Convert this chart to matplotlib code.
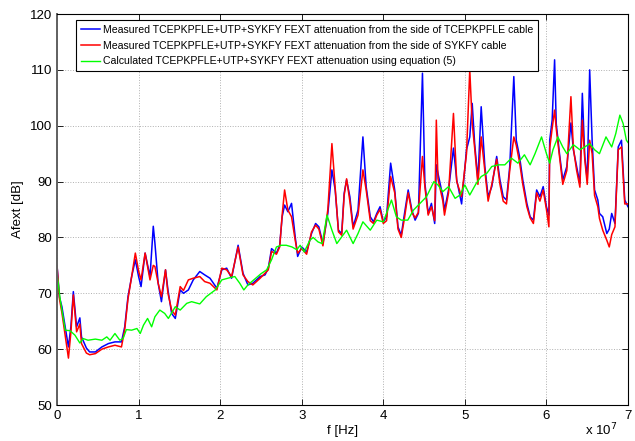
import numpy as np
import matplotlib
matplotlib.use('Agg')
import matplotlib.pyplot as plt

# frequencies in MHz, attenuation in dB
f_meas = [0.0, 0.3, 0.6, 1.0, 1.4, 1.7, 2.0, 2.4, 2.8, 3.0, 3.6, 4.0, 4.7, 5.5, 6.3, 7.1, 7.9, 8.3, 8.7, 9.15,
          9.6, 10.0, 10.3, 10.8, 11.4, 11.8, 12.0, 12.4, 12.8, 13.3, 13.6, 14.05, 14.5, 15.1, 15.5, 16.1, 16.7,
          17.5, 18.1, 18.75, 19.6, 20.2, 20.8, 21.4, 22.2, 22.8, 23.4, 24.0, 24.9, 25.5, 25.9, 26.3, 26.9, 27.3,
          27.6, 27.9, 28.3, 28.75, 29.2, 29.5, 30.0, 30.6, 31.2, 31.7, 32.1, 32.6, 33.2, 33.7, 34.1, 34.5, 34.9,
          35.2, 35.5, 35.9, 36.3, 36.9, 37.5, 37.9, 38.4, 38.8, 39.2, 39.6, 40.0, 40.4, 40.9, 41.4, 41.8, 42.2,
          42.6, 43.05, 43.5, 43.9, 44.3, 44.8, 45.1, 45.5, 45.9, 46.3, 46.5, 46.7, 47.3, 47.5, 48.0, 48.6, 49.0,
          49.6, 50.2, 50.6, 50.9, 51.2, 51.6, 52.0, 52.45, 52.85, 53.3, 53.9, 54.3, 54.7, 55.1, 55.5, 56.0, 56.3,
          56.7, 57.1, 57.6, 58.0, 58.4, 58.8, 59.2, 59.6, 60.0, 60.3, 60.4, 60.7, 61.0, 61.2, 61.6, 62.0, 62.5,
          63.0, 63.3, 63.7, 64.1, 64.4, 64.7, 65.0, 65.3, 65.6, 65.9, 66.3, 66.5, 66.9, 67.4, 67.7, 68.0, 68.4,
          68.8, 69.2, 69.6, 70.0]

a_tcep = [75, 69.3, 67.6, 64, 60.4, 64, 70.3, 64, 65.6, 62.2, 60.2, 59.5, 59.5, 60.4, 61, 61.3, 61.3, 64, 69.4, 73,
          76, 73, 71.2, 77.2, 73, 82, 79, 71.8, 68.5, 74.2, 70.6, 66.4, 65.5, 70.6, 70, 70.6, 72.4,
          73.9, 73.3, 72.7, 70.9, 74.2, 74.5, 72.7, 78.6, 73.6, 71.5, 71.8, 73, 73.3, 74.5, 78, 77.2, 78.6,
          83.7, 85.8, 84.6, 86.1, 80.1, 76.6, 78.3, 77.4, 80.7, 82.5, 81.9, 78.9, 84.3, 92.1, 88.5, 81.3, 80.7,
          87.9, 90.3, 87.3, 81.9, 84.9, 98, 89.1, 83.7, 82.8, 84.3, 85.5, 82.8, 83.7, 93.3, 88.5, 81.9, 80.4,
          84.3, 88.5, 84.9, 83.1, 84.3, 109.4, 89.7, 84.3, 86.1, 82.5, 93, 91.5, 87.3, 84.9, 88.5, 96, 90.3,
          86, 95.7, 98, 104, 96.8, 90.3, 103.4, 92.7, 87.3, 89.1, 94.5, 90.3, 87.3, 86.7, 92.7, 108.8, 97.4,
          94.5, 90.3, 86.1, 83.7, 83.1, 88.5, 87.3, 89.1, 85.5, 84, 97.4, 101, 111.8, 100.4, 95, 90.3, 92.7,
          100.5, 95.7, 92.7, 89.7, 105.8, 94.5, 90.3, 110, 97.4, 88.5, 86.7, 84.3, 83.7, 80.7, 81.5, 84.3, 82.5,
          96.2, 97.4, 86.7, 85.5]

a_sykfy = [75, 69, 66.5, 62.5, 58.4, 63, 69.7, 63.1, 64.5, 61, 59.3, 59, 59.2, 60, 60.4, 60.7, 60.4, 63.5, 69, 73,
           77.2, 74, 72.4, 77.2, 72.4, 75, 74.8, 71.8, 69.4, 74.2, 70, 67, 66.1, 71.2, 70.5, 72.4, 72.7,
           73, 72.1, 71.8, 70.6, 74.5, 74.2, 73, 78.3, 73.3, 72.1, 71.5, 72.7, 73.6, 74.2, 77.5, 77, 78.3,
           84, 88.5, 84.9, 83.7, 79.5, 77.2, 78, 77, 81, 82.2, 81.5, 78.5, 85, 96.8, 89, 81, 80.4,
           87.5, 90.5, 86.5, 81.5, 84, 92.1, 88.5, 83, 82.5, 84, 85, 82.5, 83, 90.9, 88, 81.5, 80,
           83.5, 88, 84.5, 83.5, 84.5, 94.5, 89, 84, 85.5, 83, 101, 90.5, 86.5, 84, 88, 102.2, 90,
           87.3, 95, 110, 100.4, 96, 89.5, 98, 92, 86.5, 89.5, 94, 89.5, 86.5, 86, 92, 98, 96.5,
           93.5, 89.5, 85.5, 83.5, 82.5, 88, 86.5, 88.5, 85, 81.9, 96, 99.5, 102.8, 99.5, 94.5, 89.5, 92,
           105.2, 96, 92, 89, 101, 94, 89.5, 97.4, 95, 87.5, 85.5, 83.4, 81.3, 79.5, 78.3, 80.5, 81.9,
           95.7, 96.2, 86, 86]

f_calc = [0.0, 0.4, 0.8, 1.0, 1.6, 2.2, 2.8, 3.2, 3.8, 4.7, 5.5, 6.1, 6.5, 7.1, 7.7, 8.1, 8.5, 9.15, 9.8, 10.2,
          10.6, 11.1, 11.6, 12.0, 12.6, 13.2, 13.65, 14.5, 15.1, 15.9, 16.5, 17.5, 18.3, 19.4, 20.2, 21.2, 21.8,
          22.4, 22.9, 23.4, 24.2, 25.0, 25.7, 26.3, 26.9, 27.5, 28.1, 28.8, 29.4, 29.8, 30.3, 31.0, 31.4, 32.0,
          32.5, 33.1, 33.7, 34.3, 34.9, 35.5, 36.3, 36.9, 37.5, 38.4, 39.2, 40.0, 41.0, 41.6, 42.2, 43.0, 43.7,
          44.5, 45.3, 46.2, 46.7, 47.3, 48.0, 48.8, 49.4, 50.0, 50.6, 51.4, 52.0, 52.7, 53.3, 54.1, 54.9, 55.7,
          56.5, 57.3, 58.0, 58.6, 59.4, 60.0, 60.4, 60.8, 61.4, 62.0, 62.5, 63.3, 64.1, 64.7, 65.3, 65.9, 66.5,
          67.3, 68.0, 68.5, 69.0, 69.4, 69.8, 70.0]

a_calc = [73.5, 68.8, 65.2, 63.4, 63.3, 62.5, 61.1, 61.9, 61.6, 61.8, 61.6, 62.2, 61.6, 62.8, 61.6, 61.9, 63.5, 63.4, 63.7, 62.8,
          64.3, 65.5, 64, 65.8, 67, 66.4, 65.5, 67.6, 67, 68.2, 68.5, 68.1, 69.4, 70.6, 72.4, 72.8, 73,
          71.8, 70.6, 71.5, 72.5, 73.5, 74.2, 76, 78.3, 78.6, 78.6, 78.3, 77.8, 78.6, 77.4, 79.5, 80, 79.2,
          78.9, 84, 81.3, 78.9, 80.1, 81.3, 78.9, 80.7, 82.8, 81.3, 83.1, 82.8, 86.7, 83.7, 83.1, 83.1, 84.9,
          86.1, 87.3, 90, 89.4, 88.2, 89.1, 87, 87.6, 89.4, 87.6, 89.7, 90.9, 91.5, 92.7, 93, 93, 94.2,
          93.3, 94.8, 93, 95, 98, 95, 93.3, 95.7, 98, 96.2, 95, 96.6, 95.7, 96.2, 96.8, 95.7, 95,
          98, 96.2, 98.6, 101.9, 100.4, 97.4, 97]

labels = ['Measured TCEPKPFLE+UTP+SYKFY FEXT attenuation from the side of TCEPKPFLE cable',
          'Measured TCEPKPFLE+UTP+SYKFY FEXT attenuation from the side of SYKFY cable',
          'Calculated TCEPKPFLE+UTP+SYKFY FEXT attenuation using equation (5)']

plt.rcParams['font.family'] = ['Liberation Sans', 'DejaVu Sans']

fig = plt.figure(figsize=(6.35, 4.41), dpi=100)
ax = fig.add_axes([0.0898, 0.0816, 0.8992, 0.8866])

ax.plot(np.array(f_meas) * 1e6, a_tcep, color='#0000ff', lw=1.1, label=labels[0])
ax.plot(np.array(f_meas) * 1e6, a_sykfy, color='#ff0000', lw=1.1, label=labels[1])
ax.plot(np.array(f_calc) * 1e6, a_calc, color='#00ff00', lw=1.0, label=labels[2])

ax.set_xlim(0, 7e7)
ax.set_ylim(50, 120)
ax.set_xticks(np.arange(0, 8) * 1e7)
ax.set_xticklabels([str(i) for i in range(8)])
ax.set_yticks(np.arange(50, 121, 10))
ax.tick_params(direction='in', top=True, right=True, labelsize=9.5, length=4, width=0.6)
ax.grid(True, color='#b0b0b0', linestyle=':', linewidth=0.7)
for s in ax.spines.values():
    s.set_linewidth(0.8)
ax.spines['left'].set_color('#606060')
ax.spines['left'].set_linewidth(1.4)

ax.set_xlabel('f [Hz]', fontsize=9.5, labelpad=2)
ax.set_ylabel('Afext [dB]', fontsize=9.5, labelpad=4)
fig.text(0.922, 0.012, 'x 10$^{7}$', fontsize=9.5)

leg = ax.legend(loc='upper left', bbox_to_anchor=(0.03, 0.99), fontsize=7.6, fancybox=False,
                edgecolor='black', framealpha=1, handlelength=1.8, handletextpad=0.3,
                borderpad=0.45, labelspacing=0.55, borderaxespad=0.2)
leg.get_frame().set_linewidth(0.8)

plt.savefig('out.png', dpi=100)
